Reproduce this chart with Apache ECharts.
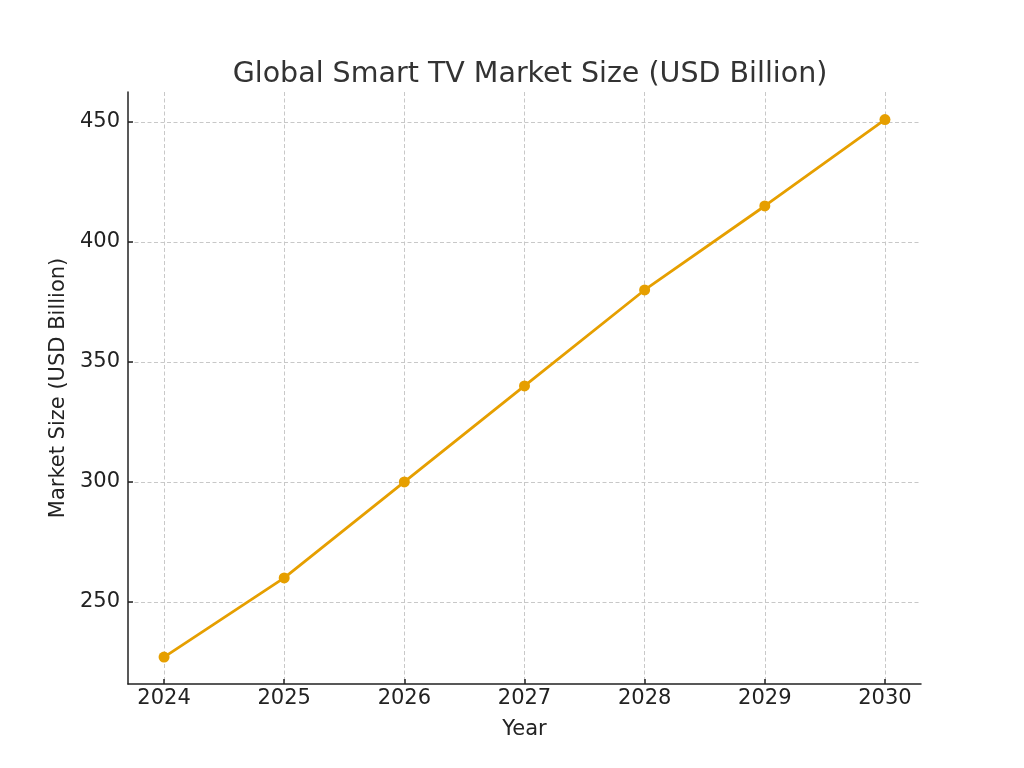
<!DOCTYPE html>
<html>
<head>
<meta charset="utf-8">
<script src="https://cdn.jsdelivr.net/npm/echarts@6/dist/echarts.min.js"></script>
<style>
  html, body { margin: 0; padding: 0; background: #fff; }
  #chart { width: 1024px; height: 768px; }
</style>
</head>
<body>
<div id="chart"></div>
<script>
// data
var years = [2024, 2025, 2026, 2027, 2028, 2029, 2030];
var marketSize = [227, 260, 300, 340, 380, 415, 451];
var yTicks = [250, 300, 350, 400, 450];

var fontFam = "DejaVu Sans";
var lineColor = "#E69F00";

var chart = echarts.init(document.getElementById("chart"));

var points = [];
for (var i = 0; i < years.length; i++) {
    points.push([years[i], marketSize[i]]);
}

var axisCommon = {
    axisLine: { show: true, onZero: false, lineStyle: { color: "#222", width: 1.5 } },
    axisTick: { show: true, inside: true, length: 5, lineStyle: { color: "#222", width: 1.5 } },
    splitLine: {
        show: true, showMinLine: true, showMaxLine: true,
        lineStyle: { color: "#c8c8c8", type: [4, 2.5], width: 1 }
    },
    nameTextStyle: { fontFamily: fontFam, fontSize: 21, color: "#222" }
};

chart.setOption({
    animation: false,
    title: {
        text: "Global Smart TV Market Size (USD Billion)",
        left: 525,
        textAlign: "center",
        top: 55,
        textStyle: { fontFamily: fontFam, fontSize: 28.5, fontWeight: "normal", color: "#333" }
    },
    grid: { left: 128, right: 103, top: 92, bottom: 84, containLabel: false },
    xAxis: echarts.util.merge({
        type: "value",
        min: 2023.7,
        max: 2030.3,
        splitNumber: 7,
        name: "Year",
        nameLocation: "middle",
        nameGap: 35,
        axisTick: { customValues: years },
        axisLabel: {
            customValues: years,
            margin: 4,
            fontFamily: fontFam, fontSize: 21, color: "#222",
            formatter: function (v) { return String(v); }
        }
    }, axisCommon, false),
    yAxis: echarts.util.merge({
        type: "value",
        min: 215.8,
        max: 462.5,
        splitNumber: 5,
        name: "Market Size (USD Billion)",
        nameLocation: "middle",
        nameGap: 52,
        axisTick: { customValues: yTicks },
        axisLabel: {
            customValues: yTicks,
            margin: 8,
            fontFamily: fontFam, fontSize: 21, color: "#222"
        }
    }, axisCommon, false),
    series: [{
        type: "line",
        data: points,
        symbol: "circle",
        symbolSize: 11,
        lineStyle: { color: lineColor, width: 2.8 },
        itemStyle: { color: lineColor },
        z: 5
    }]
});
</script>
</body>
</html>
